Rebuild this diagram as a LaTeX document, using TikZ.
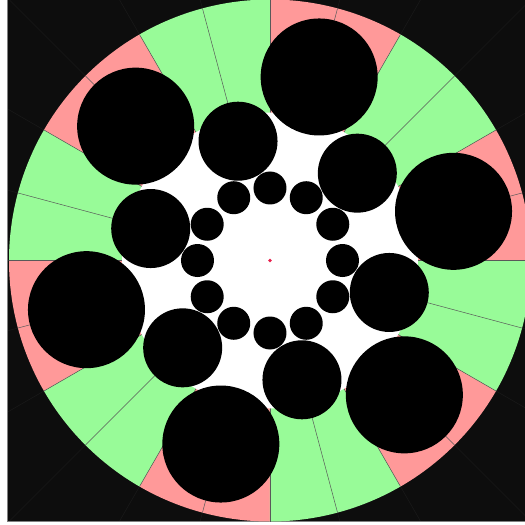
\documentclass[tikz,border=0pt]{standalone}
\definecolor{bgdark}{HTML}{0D0D0D}
\definecolor{ringgreen}{HTML}{98FB98}
\definecolor{ringpink}{HTML}{FF9999}
\definecolor{faintline}{HTML}{181818}
\definecolor{dotred}{HTML}{E8204C}
\tikzset{
  rayline/.style={draw=black!65, line width=0.5pt},
  outray/.style={draw=faintline, line width=0.6pt},
  disc/.style={fill=black}
}
\begin{document}
\begin{tikzpicture}[x=1pt,y=1pt]
\useasboundingbox (-270,-264.5) rectangle (255,260.5);
\fill[white] (-270,-264.5) rectangle (255,260.5);
\begin{scope}
  \clip (-262.5,-260.5) rectangle (300,300);
  \fill[bgdark] (-262.5,-260.5) rectangle (300,300);
  \foreach \a in {0,15,...,345} \draw[outray] (\a:261) -- (\a:500);
\end{scope}
\draw[gray, line width=0.8pt] (-262.5,300) -- (-262.5,-260.5) -- (300,-260.5);
% ring sectors
\foreach \a in {0,60,...,300}
  \fill[ringpink] (0,0) -- (\a:261) arc[start angle=\a, end angle=\a+30, radius=261] -- cycle;
\foreach \a in {30,90,...,330}
  \fill[ringgreen] (0,0) -- (\a:261) arc[start angle=\a, end angle=\a+30, radius=261] -- cycle;
\foreach \a in {0,15,...,345} \draw[rayline] (0,0) -- (\a:261);
% inner white disc
\fill[white] (0,0) circle (148);
% big circles
\foreach \a in {15,75,...,315} \fill[disc] (\a:190) circle (58.5);
% medium circles
\foreach \a in {45,105,...,345} \fill[disc] (\a:123.5) circle (39.5);
% small circles
\foreach \a in {0,30,...,330} \fill[disc] (\a:72.5) circle (16.5);
% centre dot
\fill[dotred] (0,0) circle (1.9);
\end{tikzpicture}
\end{document}
